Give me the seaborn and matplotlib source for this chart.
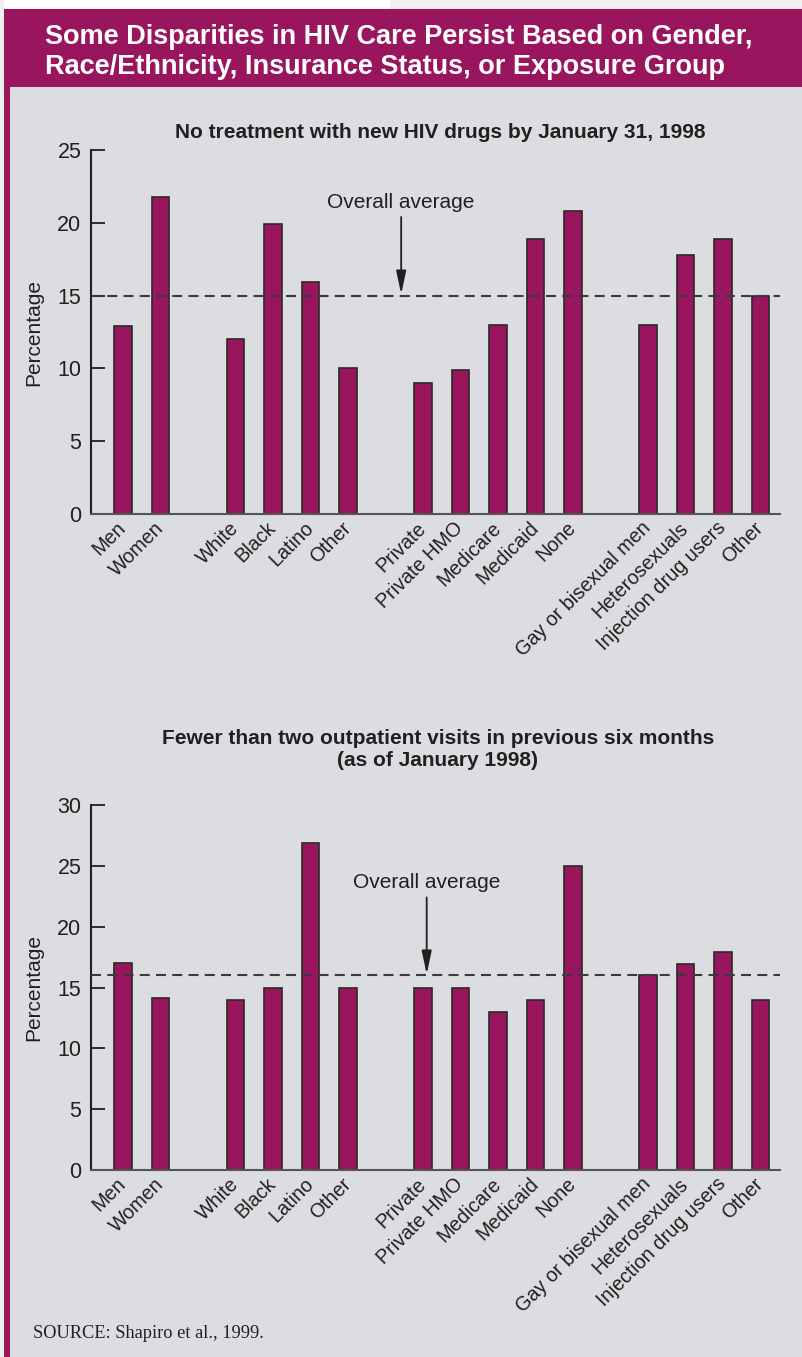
import numpy as np
import pandas as pd
import matplotlib
matplotlib.use("Agg")
import matplotlib.pyplot as plt
from matplotlib.patches import Rectangle
import seaborn as sns

# categories, grouped (a blank slot separates each group)
gender = ["Men", "Women"]
race = ["White", "Black", "Latino", "Other"]
insurance = ["Private", "Private HMO", "Medicare", "Medicaid", "None"]
exposure = ["Gay or bisexual men", "Heterosexuals", "Injection drug users", "Other"]

# chart 1: no treatment with new HIV drugs (percent)
no_treat_gender = [12.9, 21.8]
no_treat_race = [12.0, 19.9, 15.9, 10.0]
no_treat_insurance = [9.0, 9.9, 13.0, 18.9, 20.8]
no_treat_exposure = [13.0, 17.8, 18.9, 15.0]
no_treat_avg = 15

# chart 2: fewer than two outpatient visits (percent)
visits_gender = [17.0, 14.1]
visits_race = [14.0, 15.0, 26.9, 15.0]
visits_insurance = [15.0, 15.0, 13.0, 14.0, 25.0]
visits_exposure = [16.0, 16.9, 17.9, 14.0]
visits_avg = 16

MAGENTA = "#99155e"
PANEL = "#dcdde0"
INK = "#231f20"

sns.set_theme(style="white")
plt.rcParams["font.family"] = ["Liberation Sans", "DejaVu Sans"]


def build(groups, values):
    keys, labels, vals, order = [], [], [], []
    for gi, (cats, v) in enumerate(zip(groups, values)):
        if gi > 0:
            order.append(f"_gap{gi}")
            labels.append("")
        for c, val in zip(cats, v):
            k = f"{gi}:{c}"
            keys.append(k)
            vals.append(val)
            order.append(k)
            labels.append(c)
    return pd.DataFrame({"key": keys, "value": vals}), order, labels


groups = [gender, race, insurance, exposure]


def chart(ax, values, avg, ymax, text_x, text_y, arrow_top):
    df, order, labels = build(groups, values)
    sns.barplot(data=df, x="key", y="value", order=order, color=MAGENTA,
                saturation=1, width=0.47, edgecolor="#2a2a2a", linewidth=1.2,
                ax=ax, zorder=2)
    ax.set_facecolor(PANEL)
    ax.set_xlim(-0.85, len(order) - 0.48)
    ax.set_ylim(0, ymax)
    ax.set_yticks(np.arange(0, ymax + 1, 5))
    ax.set_xticks(range(len(order)))
    ax.set_xticklabels(labels, rotation=45, ha="right", va="center",
                       rotation_mode="anchor", fontsize=14.2, color=INK)
    ax.tick_params(axis="x", length=0, pad=8)
    ax.tick_params(axis="y", left=True, direction="in", length=10, width=1.3,
                   color=INK, labelsize=15.5, labelcolor=INK, pad=7)
    for s in ["top", "right"]:
        ax.spines[s].set_visible(False)
    ax.spines["left"].set_color(INK)
    ax.spines["left"].set_linewidth(1.5)
    ax.spines["bottom"].set_color("#555555")
    ax.spines["bottom"].set_linewidth(1.5)
    ax.set_xlabel("")
    ax.set_ylabel("Percentage", fontsize=15, color=INK)
    ax.yaxis.set_label_coords(-0.069, 0.5)
    ax.axhline(avg, color="#3a3a3a", lw=1.5, ls=(0, (4.8, 3)), zorder=3)
    ax.text(text_x, text_y, "Overall average", ha="center", va="baseline",
            fontsize=15, color=INK)
    ax.annotate("", xy=(text_x, avg + 0.1), xytext=(text_x, arrow_top),
                arrowprops=dict(arrowstyle="-|>,head_length=1.4,head_width=0.3",
                                mutation_scale=10, color=INK, lw=1.3,
                                shrinkA=0, shrinkB=0), zorder=4)


fig = plt.figure(figsize=(8.02, 13.57), dpi=100)
fig.patch.set_facecolor("white")
W, H = 802, 1357


def rect(x0, y0, x1, y1, color):
    fig.add_artist(Rectangle((x0 / W, 1 - y1 / H), (x1 - x0) / W, (y1 - y0) / H,
                             transform=fig.transFigure, color=color, lw=0, zorder=0))


rect(390, 0, 802, 10, "#efefef")
rect(0, 0, 4, 1357, "#efefef")
rect(4, 9, 802, 1357, MAGENTA)
rect(10, 87, 802, 1357, PANEL)

fig.text(45 / W, 1 - 52 / H,
         "Some Disparities in HIV Care Persist Based on Gender,\n"
         "Race/Ethnicity, Insurance Status, or Exposure Group",
         ha="left", va="center", color="white", fontsize=19.5,
         fontweight="bold", linespacing=1.18)

ax1 = fig.add_axes([91 / W, 1 - 514 / H, 689 / W, 364 / H])
chart(ax1, [no_treat_gender, no_treat_race, no_treat_insurance, no_treat_exposure],
      no_treat_avg, 25, 7.42, 21.0, 20.4)
fig.text(440 / W, 1 - 133 / H, "No treatment with new HIV drugs by January 31, 1998",
         ha="center", va="center", fontsize=15, fontweight="bold", color=INK)

ax2 = fig.add_axes([91 / W, 1 - 1170 / H, 689 / W, 365 / H])
chart(ax2, [visits_gender, visits_race, visits_insurance, visits_exposure],
      visits_avg, 30, 8.1, 23.2, 22.4)
fig.text(438 / W, 1 - 750 / H,
         "Fewer than two outpatient visits in previous six months\n(as of January 1998)",
         ha="center", va="center", fontsize=15, fontweight="bold", color=INK,
         linespacing=1.2)

fig.text(33 / W, 1 - 1333 / H, "SOURCE: Shapiro et al., 1999.", ha="left",
         va="center", fontsize=13.2, family="Liberation Serif", color=INK)

fig.savefig("out.png", dpi=100)
